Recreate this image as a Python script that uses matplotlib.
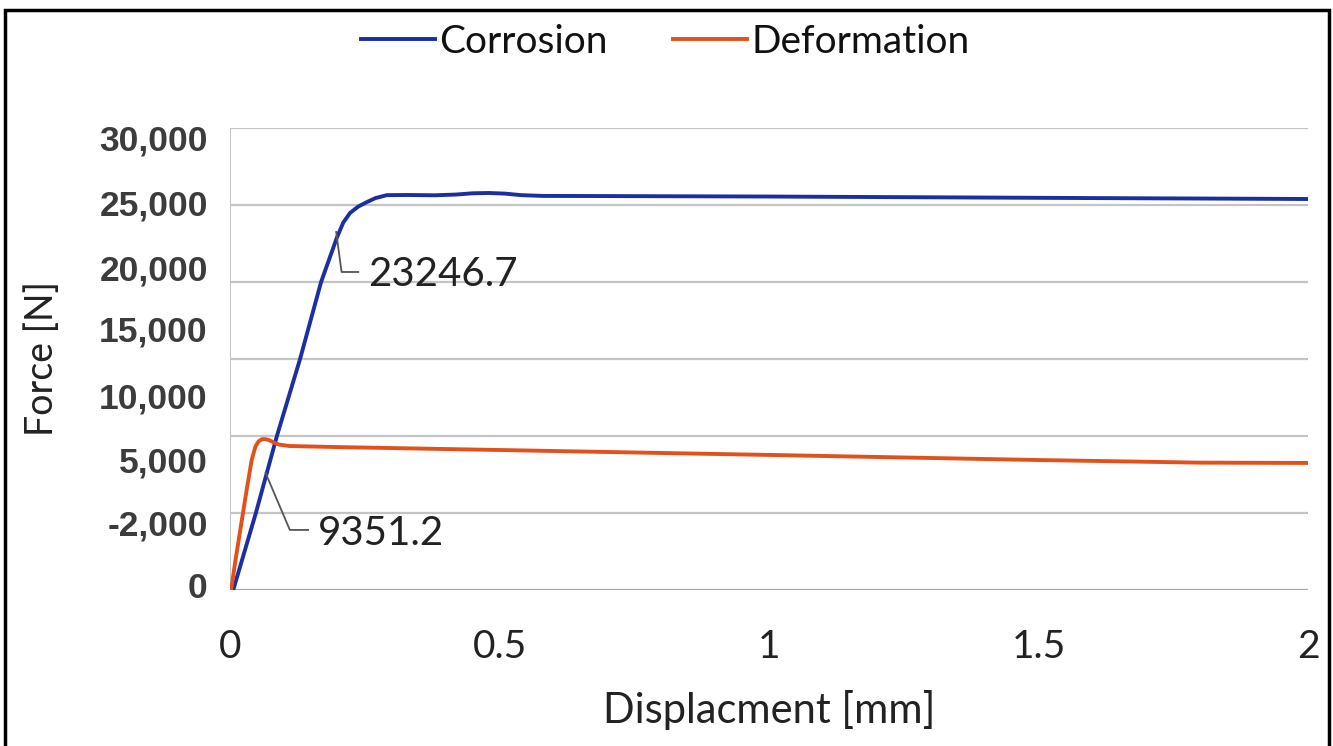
import matplotlib
matplotlib.use('Agg')
import matplotlib.pyplot as plt
from matplotlib.patches import Rectangle

# ── Data ──────────────────────────────────────────────────────────────────────
corr_disp = [0.0, 0.006, 0.048, 0.087, 0.130, 0.169, 0.1985, 0.210, 0.2226, 0.238,
             0.254, 0.270, 0.291, 0.33, 0.38, 0.42, 0.45, 0.48, 0.51, 0.54,
             0.58, 0.70, 1.00, 1.30, 1.60, 2.00]
corr_force = [0, 0, 5000, 10000, 15000, 20000, 22900, 23850, 24480, 24900,
              25190, 25450, 25640, 25650, 25630, 25680, 25760, 25780, 25740, 25640,
              25590, 25580, 25550, 25500, 25450, 25390]

def_disp = [0.0, 0.002, 0.010, 0.020, 0.030, 0.040, 0.047, 0.053, 0.059, 0.065,
            0.072, 0.080, 0.09, 0.11, 0.20, 0.50, 1.00, 1.50, 1.80, 2.00]
def_force = [0, 0, 1900, 4100, 6300, 8400, 9300, 9650, 9790, 9800,
             9740, 9600, 9450, 9350, 9280, 9090, 8770, 8440, 8270, 8250]

x_ticks = [0, 0.5, 1, 1.5, 2]
x_tick_labels = ['0', '0.5', '1', '1.5', '2']
grid_levels = [0, 5000, 10000, 15000, 20000, 25000, 30000]
# the original figure's y labels do not sit on its gridlines
y_label_text = ['0', '-2,000', '5,000', '10,000', '15,000', '20,000', '25,000', '30,000']
y_label_pos = [330, 4400, 8450, 12650, 17000, 20950, 25150, 29400]

annot_values = [23246.7, 9351.2]

BLUE = '#1a2fa0'
ORANGE = '#e2511c'
GRID = '#c4c4c4'
TEXT = '#3c3c3c'

fig = plt.figure(figsize=(13.33, 7.46), dpi=100)
ax = fig.add_axes([230 / 1333, 156 / 746, 1078 / 1333, 462 / 746])

for g in grid_levels:
    ax.axhline(g, color=GRID if g else '#a8a8a8', lw=1.6, zorder=1)
ax.axvline(0, color=GRID, lw=1.4, zorder=1)

ax.plot(corr_disp, corr_force, color=BLUE, lw=2.8, label='Corrosion', zorder=3)
ax.plot(def_disp, def_force, color=ORANGE, lw=2.8, label='Deformation', zorder=4)

ax.set_xlim(0, 2)
ax.set_ylim(0, 30000)
for s in ax.spines.values():
    s.set_visible(False)

ax.set_xticks(x_ticks, x_tick_labels)
ax.tick_params(axis='x', length=0, pad=28, labelsize=28, labelcolor='#222222')
for lab in ax.get_xticklabels():
    lab.set_family('Lato')

ax.set_yticks(y_label_pos, y_label_text)
ax.tick_params(axis='y', length=0, pad=16, labelsize=25.5, labelcolor=TEXT)
for lab in ax.get_yticklabels():
    lab.set_family('Liberation Sans')
    lab.set_fontweight('bold')

ax.set_xlabel('Displacment [mm]', fontsize=30, family='Lato', color='#222222', labelpad=18)
ax.set_ylabel('Force [N]', fontsize=27, family='Lato', color='#222222', labelpad=28)

# leader-line callouts
ax.plot([0.197, 0.207, 0.238], [annot_values[0], 20650, 20650], color='#555555', lw=1.3, zorder=5)
ax.text(0.256, 20500, f'{annot_values[0]:.1f}', fontsize=29, family='Lato',
        color='#222222', va='center', ha='left', zorder=6)
ax.plot([0.066, 0.111, 0.145], [7600, 3900, 3900], color='#555555', lw=1.3, zorder=5)
ax.text(0.163, 3700, f'{annot_values[1]:.1f}', fontsize=29, family='Lato',
        color='#222222', va='center', ha='left', zorder=6)

leg = fig.legend(loc='center', bbox_to_anchor=(0.499, 0.944), ncol=2, frameon=False,
                 prop={'family': 'Lato', 'size': 28}, handlelength=1.9, handletextpad=0.1,
                 columnspacing=1.7)
for t in leg.get_texts():
    t.set_color('#111111')

# black frame around the whole figure
fig.patches.append(Rectangle((0.004, -0.02), 0.993, 1.007, transform=fig.transFigure,
                             fill=False, edgecolor='black', lw=2.5))

fig.savefig('out.png', dpi=100, facecolor='white')
